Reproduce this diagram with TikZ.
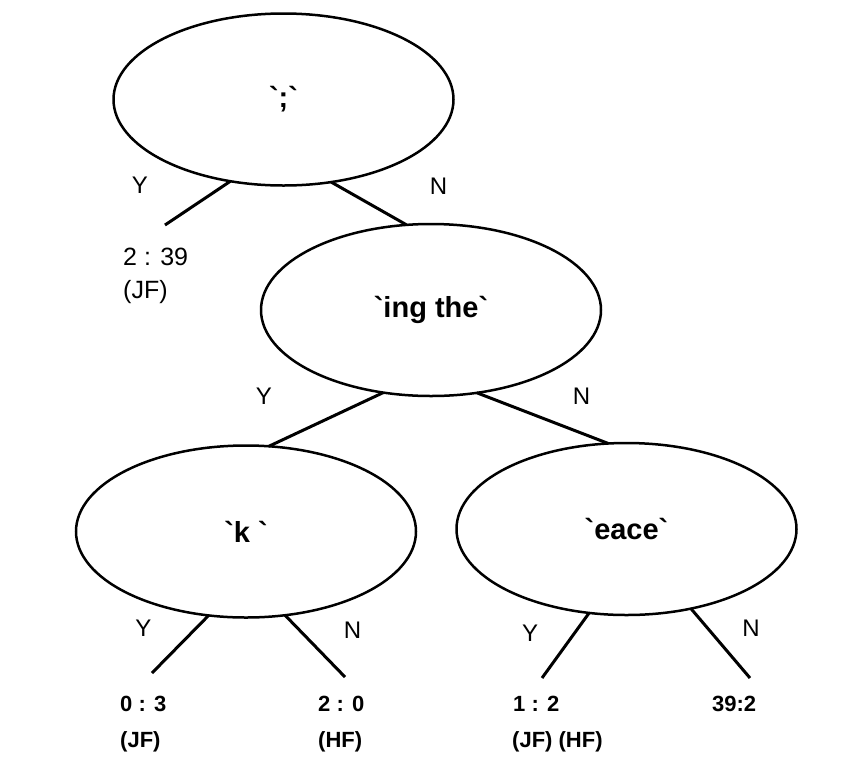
\documentclass[tikz,border=0pt]{standalone}
\usepackage{fontspec}
\setmainfont{Liberation Sans}
\newfontfamily\treefont{Liberation Sans}
\usetikzlibrary{shapes.geometric}

\begin{document}
\begin{tikzpicture}[x=1pt,y=-1pt,every node/.style={font=\treefont}]
\tikzstyle{question}=[draw,ellipse,line width=2.5pt,minimum width=340pt,minimum height=172pt,inner sep=0pt,outer sep=0pt,font=\treefont\fontsize{29}{32}\selectfont\bfseries]
\tikzstyle{answer}=[inner sep=0pt,font=\treefont\fontsize{24}{26}\selectfont]
\tikzstyle{leaf}=[anchor=base west,inner sep=0pt,font=\treefont\fontsize{22}{24}\selectfont\bfseries]
\tikzstyle{branch}=[line width=3pt]
\useasboundingbox (0,0) rectangle (867,756);
% questions
\node[question] (semi) at (283.5,99.5) {`;`};
\node[question] (ing) at (431,310) {`ing the`};
\node[question] (k) at (246,531.5) {`k `};
\node[question] (eace) at (626.5,529) {`eace`};
% free ends
\coordinate (semiY) at (165,225);
\coordinate (kY) at (152,673);
\coordinate (kN) at (345,677);
\coordinate (eaceY) at (542,678);
\coordinate (eaceN) at (750,678);
% branches
\draw[branch] (semi.-123) -- (semiY);
\draw[branch] (semi.-60.9) -- (ing.106);
\draw[branch] (ing.-120.9) -- (k.75.6);
\draw[branch] (ing.-61) -- (eace.102.9);
\draw[branch] (k.-114.5) -- (kY);
\draw[branch] (k.-65.5) -- (kN);
\draw[branch] (eace.-114.7) -- (eaceY);
\draw[branch] (eace.-51.7) -- (eaceN);
% Y / N
\node[answer] (semiYlab) at (140,185) {Y};
\node[answer] (semiNlab) at (438.5,186.5) {N};
\node[answer] (ingYlab) at (264,396.5) {Y};
\node[answer] (ingNlab) at (581.5,396.5) {N};
\node[answer] (kYlab) at (143.5,628.5) {Y};
\node[answer] (kNlab) at (352.5,630.5) {N};
\node[answer] (eaceYlab) at (530,633.5) {Y};
\node[answer] (eaceNlab) at (751,628.5) {N};
% leaves
\node[leaf,font=\treefont\fontsize{25}{27}\selectfont] (semiYcount) at (123,265) {2 : 39};
\node[leaf,font=\treefont\fontsize{25}{27}\selectfont] (semiYclass) at (123,298) {(JF)};
\node[leaf] (kYcount) at (120,711) {0 : 3};
\node[leaf] (kYclass) at (120,747) {(JF)};
\node[leaf] (kNcount) at (318,711) {2 : 0};
\node[leaf] (kNclass) at (318,747) {(HF)};
\node[leaf] (eaceYcount) at (513,711) {1 : 2};
\node[leaf] (eaceYclass) at (512,747) {(JF) (HF)};
\node[leaf] (eaceNcount) at (712,711) {39:2};
\end{tikzpicture}
\end{document}
